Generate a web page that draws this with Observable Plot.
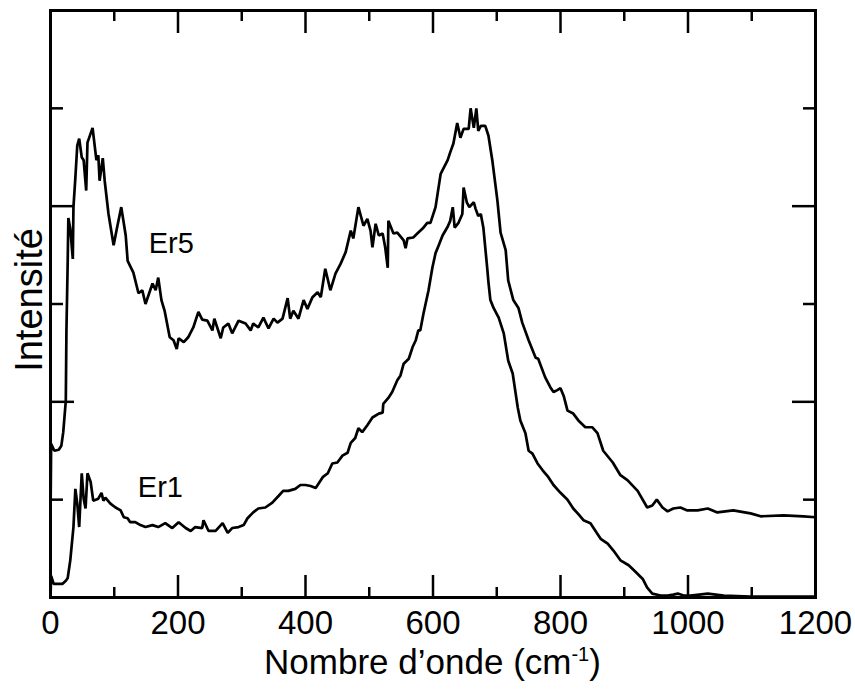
<!DOCTYPE html>
<html>
<head>
<meta charset="utf-8">
<script src="https://cdn.jsdelivr.net/npm/d3@7"></script>
<script src="https://cdn.jsdelivr.net/npm/@observablehq/plot@0.6"></script>
<style>
  body { margin: 0; background: #fff; }
  #chart svg { display: block; }
</style>
</head>
<body>
<div id="chart"></div>
<script>
// Tick values (x in cm^-1, y in arbitrary intensity units)
const xMajorTicks = [0, 200, 400, 600, 800, 1000, 1200];
const xMinorTicks = [100, 300, 500, 700, 900, 1100];
const yMajorTicks = [200, 400];
const yMinorTicks = [100, 300, 500];

// Er5 spectrum: [wavenumber, intensity]
const er5 = [
  [0,79],[1,157],[6,150],[13,151],[17,155],[20,169],[24,201],[25,273],[27,344],[28,388],[31,377],[35,346],[36,399],[39,429],[42,462],[45,469],[49,450],[52,447],[56,416],[58,465],[66,480],[72,447],[75,452],[77,426],[82,449],[85,426],[91,392],[99,360],[105,380],[111,399],[118,370],[121,344],[130,332],[138,311],[144,314],[149,300],[160,321],[165,314],[169,327],[174,304],[179,293],[187,266],[193,263],[198,254],[201,265],[209,261],[216,266],[224,276],[232,292],[238,284],[246,283],[254,273],[257,285],[267,265],[271,276],[279,280],[285,270],[295,283],[306,280],[314,273],[318,280],[326,276],[334,286],[342,275],[350,285],[356,281],[364,285],[372,306],[376,285],[381,293],[389,285],[397,304],[403,295],[411,307],[419,312],[424,307],[431,336],[439,314],[447,331],[455,341],[463,353],[471,375],[475,367],[483,399],[491,380],[497,387],[502,375],[505,358],[510,382],[515,370],[521,372],[525,358],[529,337],[530,385],[538,372],[544,373],[554,365],[557,357],[560,367],[569,368],[577,373],[585,378],[591,383],[596,383],[604,399],[612,433],[623,447],[627,455],[632,464],[638,485],[643,470],[648,479],[656,479],[659,500],[664,480],[668,500],[671,477],[675,482],[682,482],[687,472],[693,447],[701,406],[706,373],[714,355],[718,324],[726,304],[734,296],[740,281],[750,263],[761,245],[765,244],[776,225],[784,215],[789,210],[795,212],[800,214],[805,206],[811,191],[820,188],[828,181],[839,174],[850,174],[858,168],[867,150],[882,138],[894,125],[905,120],[921,109],[936,92],[944,94],[951,100],[960,92],[968,88],[977,91],[988,92],[999,89],[1015,89],[1031,91],[1046,87],[1071,89],[1098,86],[1114,83],[1150,84],[1181,83],[1200,82]
];

// Er1 spectrum: [wavenumber, intensity]
const er1 = [
  [0,0],[1,22],[5,14],[19,14],[24,17],[27,20],[31,38],[36,72],[39,111],[42,96],[45,72],[49,127],[52,101],[55,91],[58,127],[63,118],[67,99],[75,101],[80,107],[83,99],[86,102],[94,96],[102,92],[110,89],[115,82],[121,81],[125,77],[133,77],[141,74],[149,72],[160,74],[169,72],[180,76],[191,71],[201,77],[212,71],[220,68],[227,72],[238,71],[240,79],[248,68],[259,68],[270,76],[278,66],[285,71],[295,72],[303,74],[309,81],[318,87],[326,91],[337,92],[348,97],[358,104],[365,109],[373,109],[384,111],[392,115],[400,115],[408,114],[416,112],[427,123],[435,127],[442,137],[450,138],[458,145],[466,148],[471,158],[478,163],[483,173],[489,169],[497,176],[505,184],[515,188],[521,189],[522,198],[530,204],[536,210],[544,222],[549,227],[554,239],[562,244],[568,256],[573,263],[577,273],[580,273],[585,290],[593,314],[599,337],[604,352],[609,360],[615,370],[623,379],[627,385],[631,399],[634,378],[640,383],[646,392],[648,419],[653,404],[657,399],[664,404],[667,397],[671,390],[675,392],[679,378],[685,337],[687,322],[690,304],[695,296],[703,286],[711,270],[718,242],[725,229],[733,194],[737,181],[745,168],[750,150],[756,147],[764,137],[772,130],[781,123],[789,115],[800,107],[811,100],[820,91],[827,86],[836,79],[847,76],[858,65],[863,60],[874,55],[883,48],[894,38],[907,33],[918,26],[929,19],[936,10],[944,4],[957,2],[968,2],[977,3],[984,4],[993,2],[1004,2],[1031,4],[1056,2],[1098,1],[1150,1],[1200,1]
];

// Series labels placed in data space
const seriesLabels = [
  {name: "Er5", x: 154, y: 352},
  {name: "Er1", x: 137, y: 103}
];

const xTitle = "Nombre d’onde (cm";
const xTitleSup = "-1";
const yTitle = "Intensité";

const FONT = "'Liberation Sans', Arial, Helvetica, sans-serif";
const tickStroke = 2.5;

// tick-only axis (no text)
const ticksX = (data, anchor, frameAnchor, size) =>
  Plot.axisX(data, {anchor, frameAnchor, tickSize: size, strokeWidth: tickStroke, fill: "none", label: null, stroke: "black"});
const ticksY = (data, anchor, frameAnchor, size) =>
  Plot.axisY(data, {anchor, frameAnchor, tickSize: size, strokeWidth: tickStroke, fill: "none", label: null, stroke: "black"});

const chart = Plot.plot({
  width: 855,
  height: 693,
  marginLeft: 50,
  marginRight: 40,
  marginTop: 10,
  marginBottom: 96,
  style: {fontFamily: FONT, background: "white", color: "black"},
  x: {domain: [0, 1200]},
  y: {domain: [0, 600]},
  marks: [
    Plot.line(er5, {stroke: "black", strokeWidth: 2.7, strokeLinejoin: "miter"}),
    Plot.line(er1, {stroke: "black", strokeWidth: 2.7, strokeLinejoin: "miter"}),
    // inward ticks, bottom
    ticksX(xMajorTicks, "top", "bottom", 23),
    ticksX(xMinorTicks, "top", "bottom", 11),
    // inward ticks, top
    ticksX(xMajorTicks, "bottom", "top", 23),
    ticksX(xMinorTicks, "bottom", "top", 11),
    // inward ticks, left
    ticksY(yMajorTicks, "right", "left", 23),
    ticksY(yMinorTicks, "right", "left", 12),
    // inward ticks, right
    ticksY(yMajorTicks, "left", "right", 23),
    ticksY(yMinorTicks, "left", "right", 12),
    // x tick labels
    Plot.axisX(xMajorTicks, {anchor: "bottom", tickSize: 0, tickPadding: 13, fontSize: 33, stroke: "none", fill: "black", label: null, tickFormat: d => `${d}`}),
    Plot.frame({stroke: "black", strokeWidth: 3}),
    Plot.text(seriesLabels, {x: "x", y: "y", text: "name", textAnchor: "start", lineAnchor: "bottom", fontSize: 29, fill: "black"}),
    Plot.text([yTitle], {frameAnchor: "left", textAnchor: "middle", rotate: -90, dx: -9, dy: -4, lineAnchor: "bottom", fontSize: 38, fill: "black"})
  ]
});

document.getElementById("chart").appendChild(chart);

// x title with superscript
const svg = d3.select(chart);
const t = svg.append("text")
  .attr("x", 432.5)
  .attr("y", 674)
  .attr("text-anchor", "middle")
  .attr("font-family", FONT)
  .attr("font-size", 35)
  .attr("fill", "black");
t.append("tspan").text(xTitle);
t.append("tspan").attr("dy", -13).attr("font-size", 20).text(xTitleSup);
t.append("tspan").attr("dy", 13).text(")");
</script>
</body>
</html>
